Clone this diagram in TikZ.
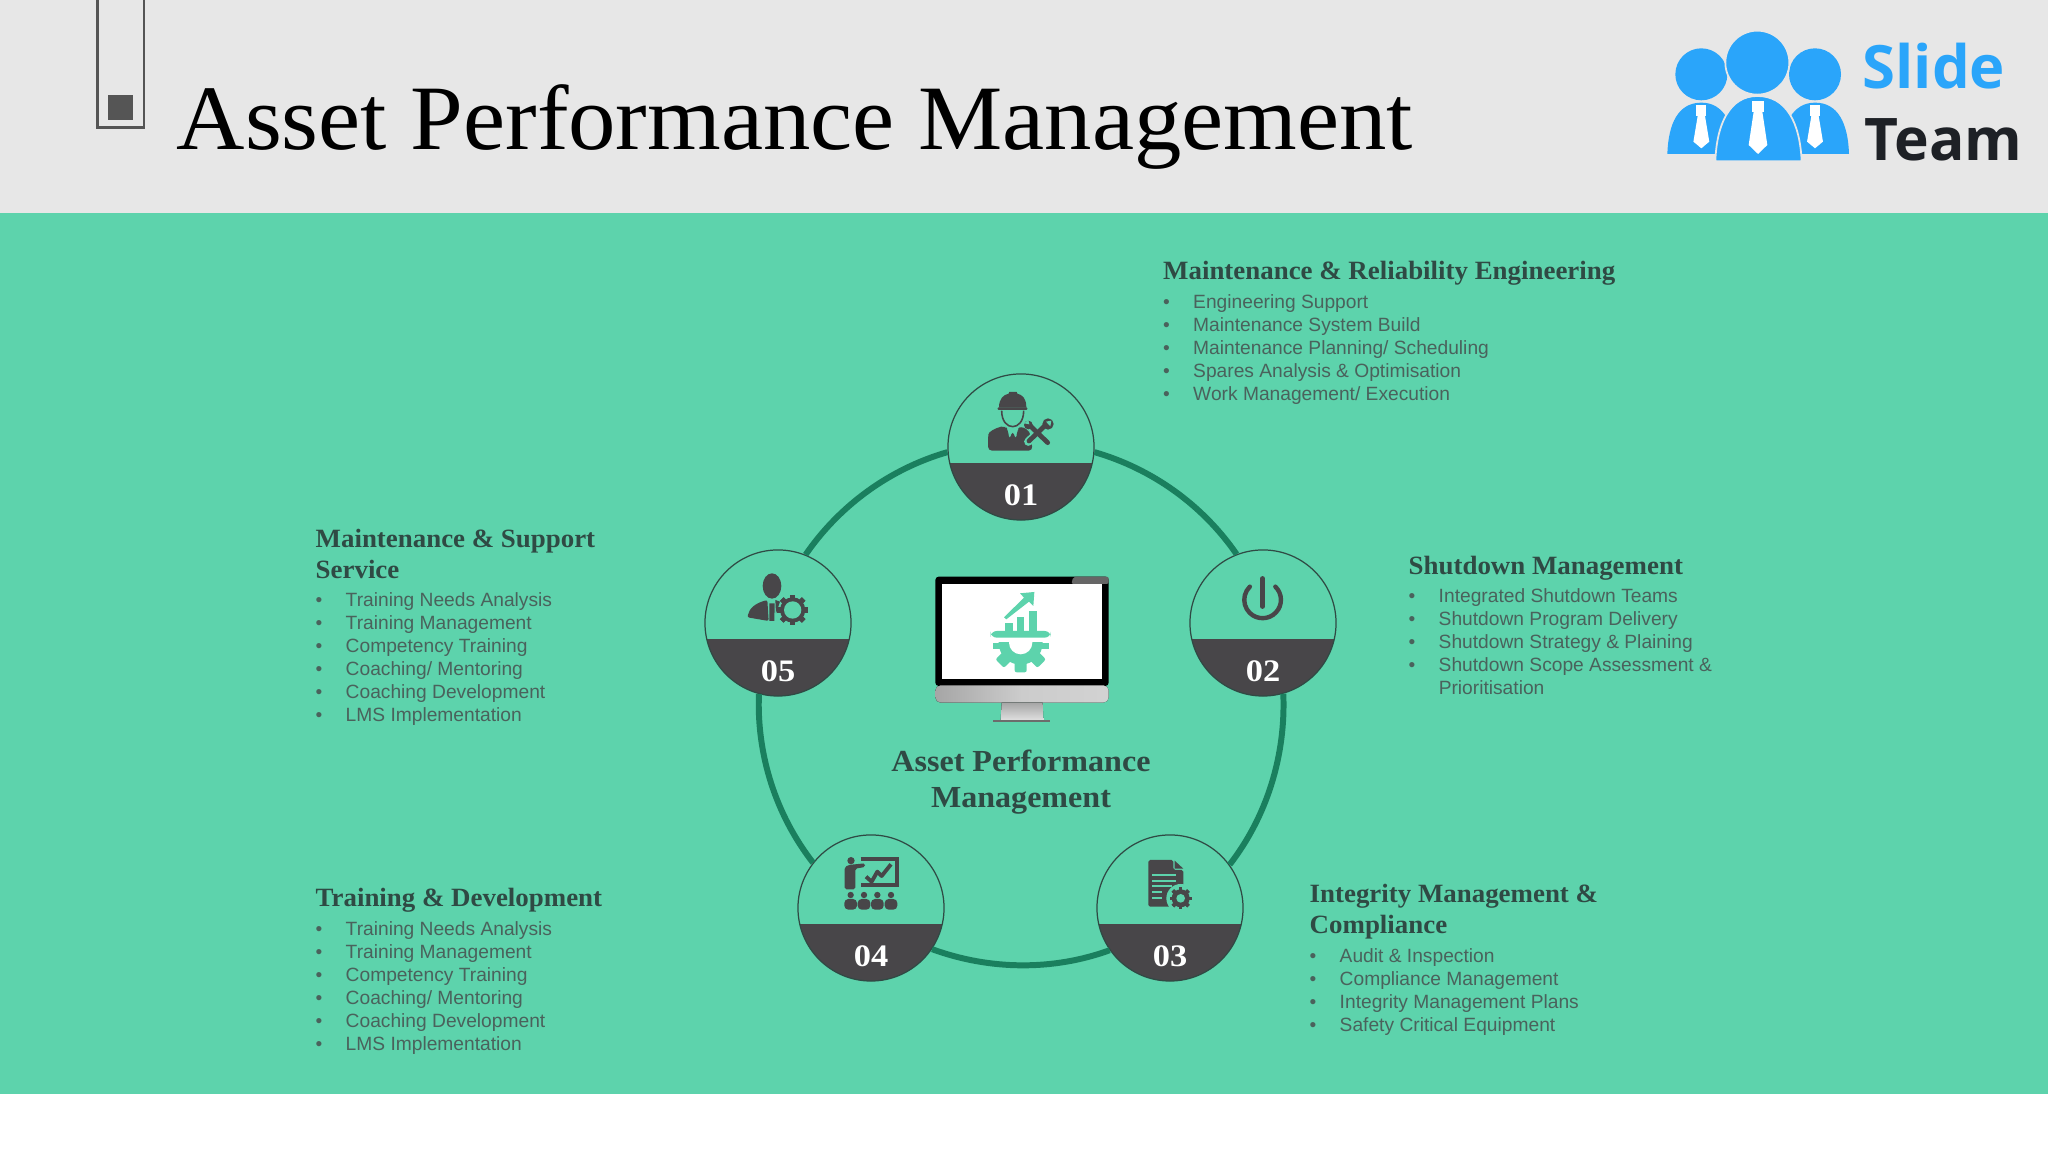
\documentclass[tikz,border=0pt]{standalone}
\usepackage{fontspec}
\setmainfont{Liberation Serif}
\newfontfamily\titlef[FakeStretch=1.028]{Liberation Serif}
\newfontfamily\headf[FakeStretch=1.02]{Liberation Serif}
\newfontfamily\centerf[FakeStretch=1.048]{Liberation Serif}
\newfontfamily\numf[FakeStretch=1.1]{Liberation Serif}
\newfontfamily\bodyf{Liberation Sans}
\newfontfamily\logof{Open Sans}
\usetikzlibrary{calc}
\definecolor{teal1}{HTML}{5DD3AC}
\definecolor{hdr}{HTML}{E7E7E7}
\definecolor{dark1}{HTML}{484649}
\definecolor{ringc}{HTML}{1A7F5E}
\definecolor{headc}{HTML}{2F4A44}
\definecolor{bodyc}{HTML}{4A625C}
\definecolor{logob}{HTML}{2AA5FA}
\definecolor{logok}{HTML}{1E2126}
\definecolor{sq}{HTML}{555555}
\newcommand\bu{\makebox[8.54pt][l]{•}}
\tikzset{
 x=0.01cm,y=0.01cm,
 stage/.style={circle,minimum size=1.46cm,inner sep=0,fill=teal1,draw=headc,line width=0.35pt,
   path picture={\fill[dark1] ([shift={(-80,-16.5)}]path picture bounding box.center) rectangle ([shift={(80,-80)}]path picture bounding box.center);}},
 numtxt/.style={text=white,font=\fontsize{8.9}{10}\selectfont\numf\bfseries,inner sep=0},
 headtxt/.style={anchor=north west,inner sep=0,align=left,text=headc,font=\fontsize{7.5}{8.75}\selectfont\headf\bfseries},
 listtxt/.style={anchor=north west,inner sep=0,align=left,text=bodyc,font=\fontsize{5.46}{6.54}\selectfont\bodyf},
 ringline/.style={draw=ringc,line width=1.7pt,looseness=0.876},
 ic/.style={fill=dark1,draw=none},
 zoomed/.style 2 args={shift={(#1,{1152-#2})},xscale=1/3,yscale=-1/3},
 rc/.style={rounded corners=#1*0.095pt},
}
\newcommand\gear[4]{% cx cy r hole
 \foreach \a in {0,45,...,315}{\fill[#4,rotate around={\a:(#1)}] ($(#1)+(-0.2*#2,-1.22*#2)$) rectangle ($(#1)+(0.2*#2,1.22*#2)$);}
 \fill[#4] (#1) circle (#2);
 \fill[teal1] (#1) circle (#3);
}
\begin{document}
\begin{tikzpicture}
\useasboundingbox (0,0) rectangle (2048,1152);
\fill[white] (0,0) rectangle (2048,1152);
\fill[hdr] (0,939) rectangle (2048,1152);
\fill[teal1] (0,58) rectangle (2048,939);
% top-left mark
\draw[sq,line width=0.7pt] (97.5,1153) rectangle (144,1024.5);
\fill[sq] (108,1057) rectangle (133,1032);
\node[anchor=base west,inner sep=0,text=black,font=\fontsize{26.2}{30}\selectfont\titlef] (title) at (176,1002) {Asset Performance Management};
% logo
\begin{scope}[zoomed={1640}{10}]
 \fill[logob] (184,193) circle (78);
 \fill[logob] (525,193) circle (78);
 \fill[logob] (82,432) .. controls (85,340) and (115,278) .. (184,278) .. controls (250,278) and (283,340) .. (286,432) -- cycle;
 \fill[logob] (423,432) .. controls (426,340) and (460,278) .. (525,278) .. controls (594,278) and (624,340) .. (627,432) -- cycle;
 \filldraw[logob,draw=hdr,line width=0.5pt] (226,454) .. controls (230,340) and (270,258) .. (352,258) .. controls (440,258) and (480,340) .. (485,454) -- cycle;
 \filldraw[logob,draw=hdr,line width=0.5pt] (352,158) circle (96);
 \foreach \c/\s in {184/0.85,525/0.85,354/1}{
  \begin{scope}[shift={(\c,0)},xscale=\s]
  \fill[white] (-18,{(\c==354?272:285)}) rectangle (18,{(\c==354?305:318)});
  \fill[white] (-13,{(\c==354?305:318)}) -- (13,{(\c==354?305:318)}) -- (28,{(\c==354?405:395)}) -- (0,{(\c==354?432:415)}) -- (-28,{(\c==354?405:395)}) -- cycle;
  \end{scope}
 }
\end{scope}
\node[anchor=base west,inner sep=0,text=logob,font=\fontsize{17}{20}\selectfont\logof\bfseries] (logo1) at (1862,1152-88.5) {Slide};
\node[anchor=base west,inner sep=0,text=logok,font=\fontsize{16.7}{20}\selectfont\logof\bfseries] (logo2) at (1864,1152-161) {Team};
% stages
\node[stage] (n1) at (1021,705) {};
\node[stage] (n2) at (1263,529) {};
\node[stage] (n3) at (1170,244) {};
\node[stage] (n4) at (871,244) {};
\node[stage] (n5) at (778,529) {};
\draw[ringline] (n1.-4.2) to[out=-16.1,in=124.6] (n2.111.3);
\draw[ringline] (n2.-74.2) to[out=-87.6,in=52.2] (n3.36.8);
\draw[ringline] (n3.215.4) to[out=-160,in=-20] (n4.-34.9);
\draw[ringline] (n4.142.7) to[out=127.8,in=-92.3] (n5.-105);
\draw[ringline] (n5.68.1) to[out=55.5,in=196.1] (n1.184.2);
\node[numtxt] (t1) at (1021,1152-495) {01};
\node[numtxt] (t2) at (1263,1152-671) {02};
\node[numtxt] (t3) at (1170,1152-956) {03};
\node[numtxt] (t4) at (871,1152-956) {04};
\node[numtxt] (t5) at (778,1152-671) {05};
% icon 01
\begin{scope}[zoomed={920}{360}]
 \fill[ic] (237,143) .. controls (237,115) and (250,105) .. (266,101) -- (268,96) -- (290,96) -- (292,101) .. controls (308,105) and (319,115) .. (319,143) -- cycle;
 \fill[ic,rc=3] (233,142) rectangle (322,150);
 \draw[dark1,line width=0.45pt] (245,152) .. controls (245,185) and (262,200) .. (278,200) .. controls (294,200) and (311,185) .. (311,152);
 \fill[ic,rc=12] (204,272) -- (204,235) .. controls (206,215) and (225,205) .. (255,197) -- (264,210) -- (268,240) -- (278,212) -- (288,240) -- (292,210) -- (302,197) -- (330,215) -- (338,272) -- cycle;
 \draw[teal1,line width=2.4pt,line cap=round] (322,190) -- (385,250);
 \draw[teal1,line width=2.4pt,line cap=round] (325,245) -- (385,190);
 \draw[dark1,line width=1.35pt,line cap=round] (325,192) -- (383,248);
 \draw[dark1,line width=1.35pt,line cap=round] (327,243) -- (377,195);
 \fill[ic] (384,192) circle (17); \fill[teal1] (394,182) -- (378,185) -- (391,199) -- cycle;
 \fill[ic] (325,195) circle (13); \fill[teal1] (312,190) -- (325,180) -- (328,193) -- cycle;
\end{scope}
% icon 02
\begin{scope}[zoomed={1180}{550}]
 \draw[dark1,line width=1.25pt,line cap=round] (248,85) -- (248,170);
 \draw[dark1,line width=1.25pt,line cap=round] (286,110) arc[start angle=-46,end angle=226,radius=55];
\end{scope}
% icon 03
\begin{scope}[zoomed={1090}{830}]
 \fill[ic,rc=5] (175,90) -- (250,90) -- (250,120) -- (280,120) -- (280,230) -- (175,230) -- cycle;
 \fill[ic] (254,92) -- (280,116) -- (254,116) -- cycle;
 \foreach \yy/\xe in {132/258,149/258,166/245,184/215,201/215}{\fill[teal1] (187,\yy) rectangle (\xe,\yy+6);}
 \fill[teal1] (272,205) circle (43);
 \gear{272,205}{27}{13}{dark1}
\end{scope}
% icon 04
\begin{scope}[zoomed={780}{830}]
 \fill[ic] (213,92) circle (11);
 \fill[ic,rc=5] (194,178) -- (194,112) -- (205,105) -- (255,100) -- (255,111) -- (226,116) -- (226,178) -- cycle;
 \draw[dark1,line width=1.1pt] (242,87) -- (351,87) -- (351,165) -- (242,165);
 \fill[ic] (280,80) rectangle (305,87);
 \draw[dark1,line width=1.1pt,line join=round] (258,140) -- (275,155) -- (292,125) -- (305,138) -- (333,103);
 \foreach \c in {212,252,292,333}{
  \fill[ic] (\c,195) circle (9.5);
  \fill[ic,rc=12] (\c-19,239) rectangle (\c+19,207);
 }
\end{scope}
% icon 05
\begin{scope}[zoomed={690}{540}]
 \fill[ic] (246,138) ellipse (28 and 38);
 \fill[ic,rc=6] (172,232) .. controls (178,205) and (195,190) .. (232,180) -- (236,243) -- cycle;
 \fill[ic] (238,190) -- (254,190) -- (253,243) -- (238,243) -- cycle;
 \fill[ic] (256,180) -- (270,185) -- (258,220) -- cycle;
 \gear{308,210}{38}{26}{dark1}
\end{scope}
% monitor
\begin{scope}[zoomed={910}{560}]
 \fill[black,rc=10] (76,50) rectangle (596,378);
 \fill[gray!80!black,rc=6] (490,50) -- (596,50) -- (596,72) -- (484,72) -- cycle;
 \fill[white] (95,72) rectangle (576,358);
 \fill[left color=gray!70,right color=gray!35,middle color=gray!40,rc=16] (76,376) -- (596,376) -- (596,428) -- (76,428) -- cycle;
 \fill[top color=gray!70,bottom color=gray!25] (275,428) -- (398,428) -- (400,480) -- (272,480) -- cycle;
 \fill[gray!85!black] (250,481) rectangle (420,487);
 \fill[teal1] (289,178) -- (282,172) -- (342,113) -- (330,100) -- (373,96) -- (370,138) -- (357,125) -- cycle;
 \fill[teal1] (285,190) rectangle (308,215);
 \fill[teal1] (320,172) rectangle (343,215);
 \fill[teal1] (357,153) rectangle (380,215);
 \fill[teal1,rc=18] (242,213) rectangle (422,233);
 \begin{scope}
  \clip (240,248) rectangle (425,345);
  \foreach \a in {0,45,-45}{\fill[teal1,rotate around={\a:(332,248)},rc=6] (314,248) rectangle (350,337);}
  \fill[teal1] (332,248) circle (66);
  \fill[teal1] (248,248) rectangle (416,268);
  \fill[white] (332,248) circle (35);
 \end{scope}
\end{scope}
\node[inner sep=0,align=center,text=headc,font=\fontsize{8.7}{10.4}\selectfont\centerf\bfseries] (center) at (1021,1152-782) {Asset Performance\\Management};
% texts
\node[headtxt] (h1) at (1162.5,1152-261) {Maintenance \& Reliability Engineering};
\node[listtxt] (l1) at (1162.5,1152-294) {\bu Engineering Support\\\bu Maintenance System Build\\\bu Maintenance Planning/ Scheduling\\\bu Spares Analysis \& Optimisation\\\bu Work Management/ Execution};
\node[headtxt] (h2) at (1408,1152-556) {Shutdown Management};
\node[listtxt] (l2) at (1408,1152-588) {\bu Integrated Shutdown Teams\\\bu Shutdown Program Delivery\\\bu Shutdown Strategy \& Plaining\\\bu Shutdown Scope Assessment \&\\\hspace*{8.54pt}Prioritisation};
\node[headtxt] (h3) at (1309,1152-884) {Integrity Management \&\\Compliance};
\node[listtxt] (l3) at (1309,1152-948) {\bu Audit \& Inspection\\\bu Compliance Management\\\bu Integrity Management Plans\\\bu Safety Critical Equipment};
\node[headtxt] (h4) at (315,1152-888) {Training \& Development};
\node[listtxt] (l4) at (315,1152-921) {\bu Training Needs Analysis\\\bu Training Management\\\bu Competency Training\\\bu Coaching/ Mentoring\\\bu Coaching Development\\\bu LMS Implementation};
\node[headtxt] (h5) at (315,1152-529) {Maintenance \& Support\\Service};
\node[listtxt] (l5) at (315,1152-592) {\bu Training Needs Analysis\\\bu Training Management\\\bu Competency Training\\\bu Coaching/ Mentoring\\\bu Coaching Development\\\bu LMS Implementation};
\end{tikzpicture}
\end{document}
